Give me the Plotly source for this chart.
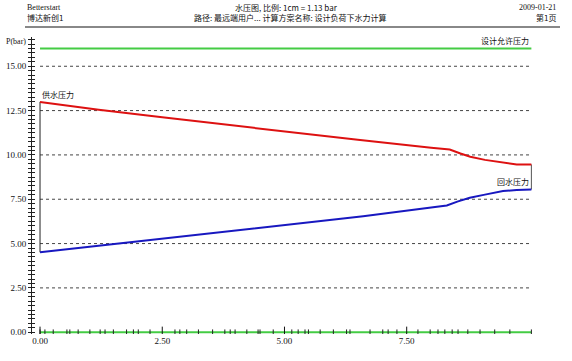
import plotly.graph_objects as go

# ---------------- data ----------------
x_supply = [0, 1.2, 2.5, 3.9, 4.7, 6.5, 8.0, 8.38, 8.6, 8.8, 9.1, 9.47, 9.75, 10.05]
p_supply = [12.99, 12.55, 12.12, 11.68, 11.40, 10.85, 10.41, 10.30, 10.08, 9.90, 9.72, 9.55, 9.46, 9.46]

x_return = [0, 1.16, 2.5, 3.89, 5.0, 6.61, 8.0, 8.32, 8.55, 8.79, 9.1, 9.47, 9.75, 10.05]
p_return = [4.51, 4.87, 5.30, 5.70, 6.05, 6.54, 7.03, 7.15, 7.38, 7.58, 7.76, 7.96, 8.02, 8.05]

allow_x = [0, 10.05]
allow_p = [16.0, 16.0]

ground_x = [0, 10.05]
ground_p = [0, 0]

nodes = [0, 0.10, 0.27, 0.55, 0.61, 0.78, 1.02, 1.23, 1.33, 1.50, 1.77, 1.91, 2.01, 2.25,
         2.76, 2.86, 3.00, 3.24, 3.53, 3.78, 3.89, 3.99, 4.23, 4.46, 4.50, 4.77, 5.15,
         5.28, 5.42, 5.49, 5.73, 6.00, 6.27, 6.34, 6.75, 7.01, 7.12, 7.30, 7.73, 7.98,
         8.14, 8.28, 8.43, 8.55, 8.75, 9.00, 9.30, 9.61, 10.05]

x_ticks = [0, 2.5, 5.0, 7.5]
x_tick_text = ["0.00", "2.50", "5.00", "7.50"]
y_ticks = [0, 2.5, 5.0, 7.5, 10.0, 12.5, 15.0]
y_tick_text = ["0.00", "2.50", "5.00", "7.50", "10.00", "12.50", "15.00"]

label_allow = "设计允许压力"
label_supply = "供水压力"
label_return = "回水压力"
head_left = ["Betterstart", "博达新创1"]
head_center = ["水压图, 比例: 1cm = 1.13 bar", "路径: 最远端用户... 计算方案名称: 设计负荷下水力计算"]
head_right = ["2009-01-21", "第1页"]

# ---------------- layout geometry ----------------
W, H = 572, 361
ML, MR, MT, MB = 32, 24, 37, 27
PW, PH = W - ML - MR, H - MT - MB

def px(x):
    return (x - ML) / PW

def py(y):
    return (H - MB - y) / PH

FONT = "Liberation Serif, Noto Sans CJK SC, serif"
CJK = "Noto Sans CJK SC, Liberation Serif, sans-serif"

GREEN = "#44cc44"
RED = "#dd1111"
BLUE = "#1818c0"

fig = go.Figure()

# ground line at 0
fig.add_trace(go.Scatter(x=ground_x, y=ground_p, mode="lines",
                         line=dict(color=GREEN, width=2), hoverinfo="skip"))
# node ticks
fig.add_trace(go.Scatter(x=nodes, y=[0] * len(nodes), mode="markers",
                         marker=dict(symbol="line-ns", size=4, line=dict(color="#222", width=1)),
                         hoverinfo="skip"))
fig.add_trace(go.Scatter(x=x_ticks, y=[0] * len(x_ticks), mode="markers",
                         marker=dict(symbol="line-ns", size=8, line=dict(color="#111", width=1)),
                         hoverinfo="skip"))
# allowed pressure
fig.add_trace(go.Scatter(x=allow_x, y=allow_p, mode="lines",
                         line=dict(color=GREEN, width=2), hoverinfo="skip"))
# connectors
fig.add_trace(go.Scatter(x=[x_supply[0], x_return[0]], y=[p_supply[0], p_return[0]], mode="lines",
                         line=dict(color="#222", width=1), hoverinfo="skip"))
fig.add_trace(go.Scatter(x=[x_supply[-1], x_return[-1]], y=[p_supply[-1], p_return[-1]], mode="lines",
                         line=dict(color="#555", width=1), hoverinfo="skip"))
# supply / return
fig.add_trace(go.Scatter(x=x_supply, y=p_supply, mode="lines",
                         line=dict(color=RED, width=2), hoverinfo="skip"))
fig.add_trace(go.Scatter(x=x_return, y=p_return, mode="lines",
                         line=dict(color=BLUE, width=2), hoverinfo="skip"))

shapes = []
# dotted grid lines spanning the data extent
for v in y_ticks[1:]:
    shapes.append(dict(type="line", xref="x", yref="y", x0=0, x1=allow_x[-1], y0=v, y1=v,
                       line=dict(color="#444", width=1, dash="dot"), layer="below"))
# header rule
shapes.append(dict(type="line", xref="paper", yref="paper", x0=px(25), x1=px(560),
                   y0=py(27), y1=py(27), line=dict(color="#888", width=2)))

ann = []
def txt(text, x, y, anchor, size=8, family=FONT, color="#111"):
    ann.append(dict(text=text, xref="paper", yref="paper", x=px(x), y=py(y),
                    xanchor=anchor, yanchor="middle", showarrow=False,
                    font=dict(family=family, size=size, color=color)))

txt(head_left[0], 25, 8, "left")
txt(head_left[1], 25, 18, "left", family=CJK)
txt(head_center[0], 286, 8, "center", family=CJK)
txt(head_center[1], 290, 18, "center", family=CJK)
txt(head_right[0], 558, 8, "right")
txt(head_right[1], 558, 18, "right", family=CJK)
txt("P(bar)", 4, 41, "left")

ann.append(dict(text=label_allow, x=allow_x[-1], y=allow_p[-1], xref="x", yref="y",
                xanchor="right", yanchor="bottom", yshift=1, showarrow=False,
                font=dict(family=CJK, size=8, color="#111")))
ann.append(dict(text=label_supply, x=x_supply[0], y=p_supply[0], xref="x", yref="y",
                xanchor="left", yanchor="bottom", yshift=0, xshift=0, showarrow=False,
                font=dict(family=CJK, size=8, color="#111")))
ann.append(dict(text=label_return, x=x_return[-1], y=p_return[-1], xref="x", yref="y",
                xanchor="right", yanchor="bottom", yshift=0, showarrow=False,
                font=dict(family=CJK, size=8, color="#111")))

fig.update_layout(
    width=W, height=H,
    margin=dict(l=ML, r=MR, t=MT, b=MB, pad=0, autoexpand=False),
    paper_bgcolor="white", plot_bgcolor="white",
    showlegend=False,
    shapes=shapes, annotations=ann,
    xaxis=dict(range=[-0.164, 10.39], showgrid=False, zeroline=False, showline=False,
               automargin=False,
               tickvals=x_ticks, ticktext=x_tick_text, ticks="",
               tickfont=dict(family=FONT, size=9, color="#111")),
    yaxis=dict(range=[-0.1, 16.65], showgrid=False, zeroline=False, automargin=False,
               showline=True, linecolor="#222", linewidth=1,
               tickvals=y_ticks, ticktext=y_tick_text, ticks="outside", ticklen=3,
               tickcolor="#222",
               minor=dict(dtick=0.25, tick0=0, ticks="outside", ticklen=3, tickcolor="#222"),
               tickfont=dict(family=FONT, size=9, color="#111")),
    yaxis2=dict(range=[-0.1, 16.65], overlaying="y", side="left", showgrid=False,
                zeroline=False, showline=False, showticklabels=False, automargin=False,
                tickvals=y_ticks, ticks="inside", ticklen=3, tickcolor="#222",
                minor=dict(dtick=0.25, tick0=0, ticks="inside", ticklen=3, tickcolor="#222")),
)
# dummy trace to activate yaxis2
fig.add_trace(go.Scatter(x=[None], y=[None], yaxis="y2", hoverinfo="skip"))

fig.write_html("out.html", config={"displayModeBar": False},
               post_script="document.body.style.margin='0';document.body.style.overflow='hidden';")
